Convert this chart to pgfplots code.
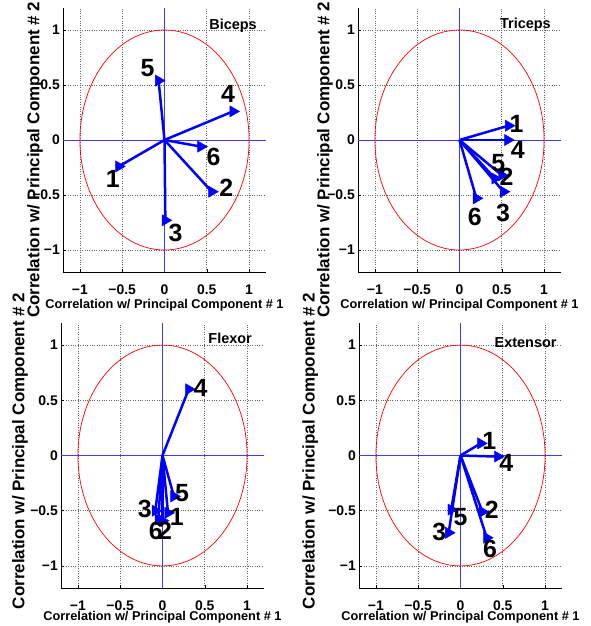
\documentclass[border=0pt]{standalone}
\usepackage{pgfplots}
\pgfplotsset{compat=1.18}
\usepackage{fontspec}
\setmainfont{Liberation Sans}
\definecolor{zline}{RGB}{60,60,255}
\pgfplotsset{
  pca/.style={
    width=203bp, height=264bp, scale only axis,
    xmin=-1.2, xmax=1.2, ymin=-1.2, ymax=1.2,
    axis x line=bottom, axis y line=left,
    axis line style={-, black, line width=0.6bp},
    xtick={-1,-0.5,0.5,1}, ytick={-1,-0.5,0.5,1},
    xticklabels={−1,−0.5,0.5,1}, yticklabels={−1,−0.5,0.5,1},
    extra x ticks={0}, extra y ticks={0},
    extra x tick labels={0}, extra y tick labels={0},
    extra tick style={grid=none},
    tick style={black, line width=0.5bp}, tick align=inside, major tick length=3bp,
    grid=major, major grid style={dotted, black!60, line width=0.6bp},
    ticklabel style={font=\bfseries\fontsize{14}{14}\selectfont},
    xticklabel style={anchor=center, inner sep=0pt, yshift=-18bp},
    yticklabel style={anchor=east, inner sep=0pt, xshift=-3bp},
    xlabel={Correlation w/ Principal Component \# 1},
    ylabel={Correlation w/ Principal Component \# 2},
    xlabel style={font=\bfseries\fontsize{12.8}{13}\selectfont, anchor=center},
    ylabel style={font=\bfseries\fontsize{17}{17}\selectfont, anchor=center},
  },
  arrowsty/.style={blue, line width=2.5bp, mark=triangle*, mark indices={2},
    mark size=6.5bp, mark options={rotate=-90, solid, fill=blue, draw=blue, line width=0.4bp}},
  numsty/.style={draw=none, mark=none, nodes near coords, point meta=explicit symbolic,
    nodes near coords style={anchor=center, inner sep=0pt, text=black,
      font=\bfseries\fontsize{25}{25}\selectfont}},
}
\newcommand\arr[2]{\addplot[arrowsty] coordinates {(0,0) (#1,#2)};}
\newcommand\refl[1]{%
  \addplot[draw=#1, line width=0.8bp] coordinates {(0,-1.2) (0,1.2)};
  \fill[#1] (axis cs:-1.2,-0.0045) rectangle (axis cs:1.2,0.0045);
  \draw[red, line width=0.7bp] (axis cs:0,0) ellipse [x radius=1, y radius=1];}
\begin{document}
\begin{tikzpicture}
% Biceps
\begin{axis}[pca, at={(63bp,354bp)}, anchor=south west,
  xlabel style={at={(rel axis cs:0.5,-0.125)}},
  ylabel style={at={(rel axis cs:-0.138,0.425)}}]
\refl{zline}
\arr{-0.54}{-0.24}
\arr{0.56}{-0.47}
\arr{0.01}{-0.73}
\arr{0.81}{0.26}
\arr{-0.07}{0.54}
\arr{0.43}{-0.06}
\addplot[numsty] table[meta=l, row sep=\\] {x y l\\ -0.61 -0.355 1\\ 0.73 -0.435 2\\ 0.13 -0.845 3\\ 0.75 0.42 4\\ -0.20 0.655 5\\ 0.58 -0.155 6\\};
\node[font=\bfseries\fontsize{14.5}{14.5}\selectfont] at (axis cs:0.81,1.04) {Biceps};
\end{axis}
% Triceps
\begin{axis}[pca, at={(358bp,354bp)}, anchor=south west,
  xlabel style={at={(rel axis cs:0.5,-0.125)}},
  ylabel style={at={(rel axis cs:-0.163,0.425)}}]
\refl{zline}
\arr{0.58}{0.13}
\arr{0.50}{-0.32}
\arr{0.52}{-0.47}
\arr{0.57}{0.0}
\arr{0.42}{-0.35}
\arr{0.20}{-0.53}
\addplot[numsty] table[meta=l, row sep=\\] {x y l\\ 0.675 0.15 1\\ 0.555 -0.335 2\\ 0.515 -0.667 3\\ 0.69 -0.09 4\\ 0.46 -0.21 5\\ 0.18 -0.70 6\\};
\node[font=\bfseries\fontsize{14.5}{14.5}\selectfont] at (axis cs:0.78,1.045) {Triceps};
\end{axis}
% Flexor
\begin{axis}[pca, at={(61bp,38bp)}, anchor=south west, height=265bp,
  xlabel style={at={(rel axis cs:0.5,-0.109)}},
  ylabel style={at={(rel axis cs:-0.202,0.517)}}]
\refl{zline}
\arr{0.065}{-0.52}
\arr{0.0}{-0.59}
\arr{-0.085}{-0.50}
\arr{0.31}{0.60}
\arr{0.135}{-0.37}
\arr{-0.05}{-0.58}
\addplot[numsty] table[meta=l, row sep=\\] {x y l\\ 0.17 -0.56 1\\ 0.03 -0.685 2\\ -0.21 -0.48 3\\ 0.45 0.61 4\\ 0.23 -0.34 5\\ -0.08 -0.685 6\\};
\node[font=\bfseries\fontsize{14.5}{14.5}\selectfont] at (axis cs:0.80,1.065) {Flexor};
\end{axis}
% Extensor
\begin{axis}[pca, at={(359bp,38bp)}, anchor=south west, height=265bp,
  xlabel style={at={(rel axis cs:0.5,-0.109)}},
  ylabel style={at={(rel axis cs:-0.24,0.517)}}]
\refl{zline}
\arr{0.24}{0.11}
\arr{0.26}{-0.51}
\arr{-0.14}{-0.70}
\arr{0.44}{-0.01}
\arr{-0.11}{-0.49}
\arr{0.31}{-0.745}
\addplot[numsty] table[meta=l, row sep=\\] {x y l\\ 0.34 0.13 1\\ 0.37 -0.49 2\\ -0.25 -0.69 3\\ 0.54 -0.07 4\\ 0.0 -0.56 5\\ 0.35 -0.85 6\\};
\node[font=\bfseries\fontsize{14.5}{14.5}\selectfont] at (axis cs:0.77,1.02) {Extensor};
\end{axis}
\pgfresetboundingbox
\useasboundingbox (0bp,0bp) rectangle (591bp,626bp);
\end{tikzpicture}
\end{document}
